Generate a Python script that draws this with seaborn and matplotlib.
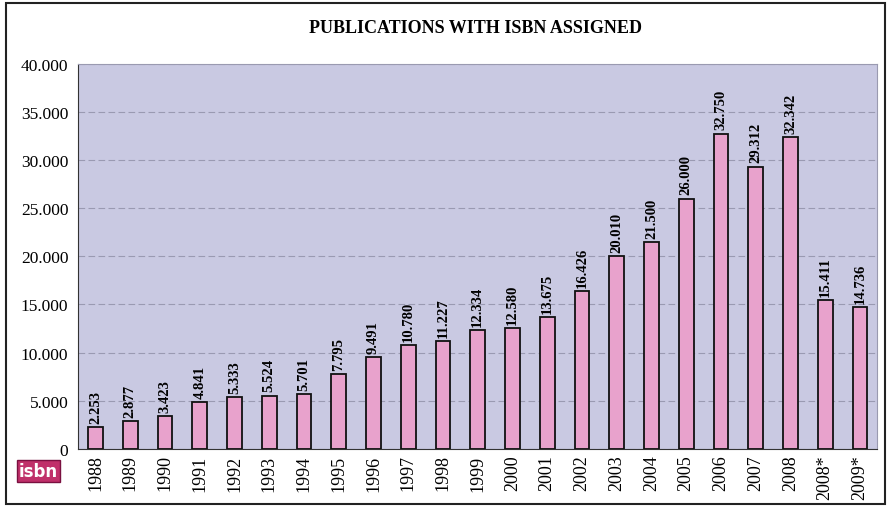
import pandas as pd
import matplotlib.pyplot as plt
import seaborn as sns
from matplotlib.patches import Rectangle

# Dados
years = ['1988', '1989', '1990', '1991', '1992', '1993', '1994', '1995', '1996', '1997',
         '1998', '1999', '2000', '2001', '2002', '2003', '2004', '2005', '2006', '2007',
         '2008', '2008*', '2009*']
publications = [2253, 2877, 3423, 4841, 5333, 5524, 5701, 7795, 9491, 10780,
                11227, 12334, 12580, 13675, 16426, 20010, 21500, 26000, 32750, 29312,
                32342, 15411, 14736]
y_ticks = [0, 5000, 10000, 15000, 20000, 25000, 30000, 35000, 40000]

def dot_thousands(v):
    return f"{int(v):,}".replace(',', '.')

df = pd.DataFrame({'year': years, 'publications': publications})

sns.set_style('white')
plt.rcParams['font.family'] = ['Liberation Serif', 'DejaVu Serif']
plt.rcParams['text.color'] = 'black'
plt.rcParams['xtick.color'] = 'black'
plt.rcParams['ytick.color'] = 'black'

fig = plt.figure(figsize=(8.88, 5.10), dpi=100)
ax = fig.add_axes([0.088, 0.118, 0.900, 0.755])

ax.set_facecolor('#c9c9e2')
sns.barplot(data=df, x='year', y='publications', color='#e8a2cc', saturation=1,
            edgecolor='#111111', linewidth=1.3, width=0.42, ax=ax, zorder=3)

ax.set_ylim(0, 40000)
ax.set_xlim(-0.5, len(years) - 0.5)
ax.set_yticks(y_ticks)
ax.set_yticklabels([dot_thousands(t) for t in y_ticks], fontsize=12.5)
ax.tick_params(axis='x', labelrotation=90, labelsize=13, pad=4, length=0)
ax.tick_params(axis='y', length=4, pad=3)
ax.set_xlabel('')
ax.set_ylabel('')
ax.grid(axis='y', color='#9a9ab2', linestyle=(0, (6, 3)), linewidth=0.8, zorder=0)
for side in ['top', 'right']:
    ax.spines[side].set_color('#9a9ab0')
ax.spines['left'].set_color('#333333')
ax.spines['bottom'].set_color('#333333')

labels = [dot_thousands(v) for v in publications]
ax.bar_label(ax.containers[0], labels=labels, rotation=90, padding=3,
             fontsize=10.5, fontweight='bold')

fig.text(0.535, 0.945, 'PUBLICATIONS WITH ISBN ASSIGNED', ha='center', va='center',
         fontsize=13, fontweight='bold')

# logo isbn
fig.text(0.043, 0.075, 'isbn', ha='center', va='center', fontsize=12, fontweight='bold',
         color='white', family='DejaVu Sans',
         bbox=dict(boxstyle='square,pad=0.12', facecolor='#c0306a', edgecolor='#7a1040'))

# moldura
fig.patches.append(Rectangle((0.007, 0.01), 0.99, 0.982, transform=fig.transFigure,
                             fill=False, edgecolor='#222222', linewidth=1.5))

fig.savefig('out.png', dpi=100)
